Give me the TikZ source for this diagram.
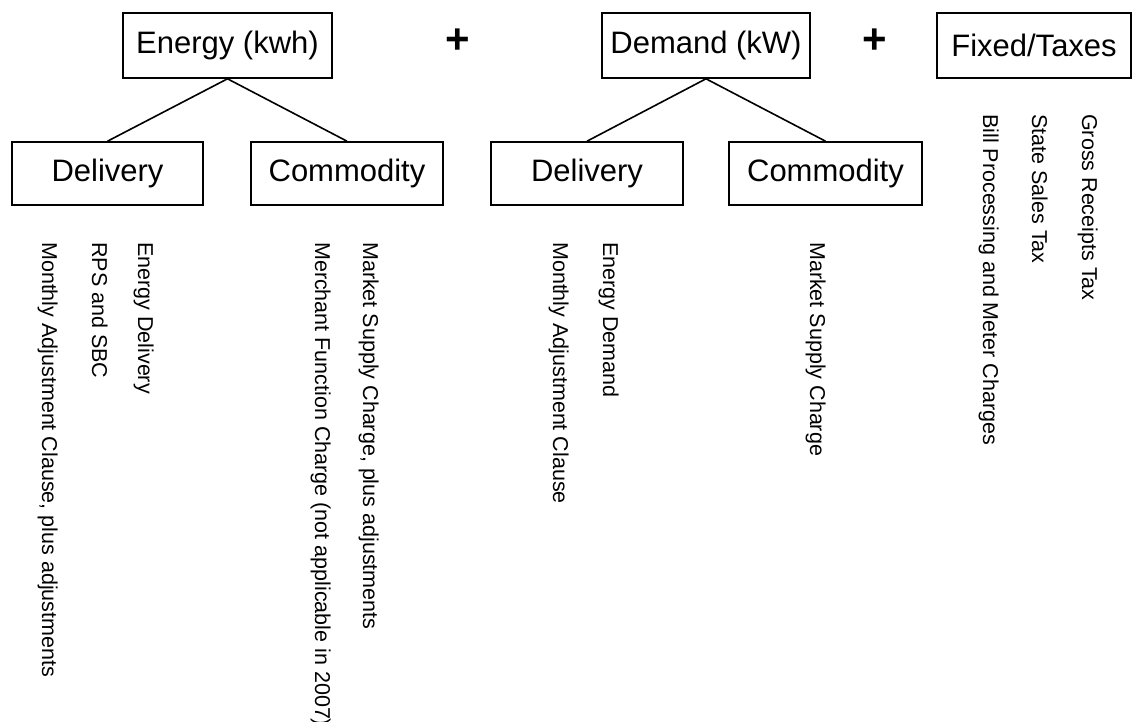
\documentclass[tikz,border=0pt]{standalone}
\usepackage{fontspec}
\setmainfont{Liberation Sans}
\begin{document}
\begin{tikzpicture}[x=1pt,y=-1pt,
  box/.style={draw,line width=1.6pt,inner sep=0pt,font=\fontsize{31}{37}\selectfont},
  topbox/.style={box,minimum height=65pt},
  subbox/.style={box,minimum height=63pt},
  item/.style={rotate=-90,anchor=base west,inner sep=0pt,font=\fontsize{21.5}{25}\selectfont},
  plus/.style={inner sep=0pt,font=\fontsize{42}{46}\selectfont\bfseries},
  link/.style={line width=1.6pt}]
\useasboundingbox (0,0) rectangle (1133,722);
\node[topbox,minimum width=209pt] (E) at (227.5,45.5) {Energy (kwh)};
\node[topbox,minimum width=208pt] (D) at (706,45.5) {Demand (kW)};
\node[topbox,minimum width=194pt] (F) at (1034,45.5) {Fixed/Taxes};
\node[plus] (p1) at (458,41) {+};
\node[plus] (p2) at (875,41) {+};
\node[subbox,minimum width=191pt] (d1) at (107.5,173.5) {Delivery};
\node[subbox,minimum width=192pt] (c1) at (347,173.5) {Commodity};
\node[subbox,minimum width=192pt] (d2) at (587,173.5) {Delivery};
\node[subbox,minimum width=193pt] (c2) at (825.5,173.5) {Commodity};
\draw[link] (E.south) -- (d1.north);
\draw[link] (E.south) -- (c1.north);
\draw[link] (D.south) -- (d2.north);
\draw[link] (D.south) -- (c2.north);
\node[item] (t1) at (42,242) {Monthly Adjustment Clause, plus adjustments};
\node[item] (t2) at (92,242) {RPS and SBC};
\node[item] (t3) at (138,242) {Energy Delivery};
\node[item] (t4) at (315,242) {Merchant Function Charge (not applicable in 2007)};
\node[item] (t5) at (363,242) {Market Supply Charge, plus adjustments};
\node[item] (t6) at (553,242) {Monthly Adjustment Clause};
\node[item] (t7) at (603,242) {Energy Demand};
\node[item] (t8) at (810,242) {Market Supply Charge};
\node[item] (t9) at (983,114) {Bill Processing and Meter Charges};
\node[item] (t10) at (1032,114) {State Sales Tax};
\node[item] (t11) at (1082,114) {Gross Receipts Tax};
\end{tikzpicture}
\end{document}
